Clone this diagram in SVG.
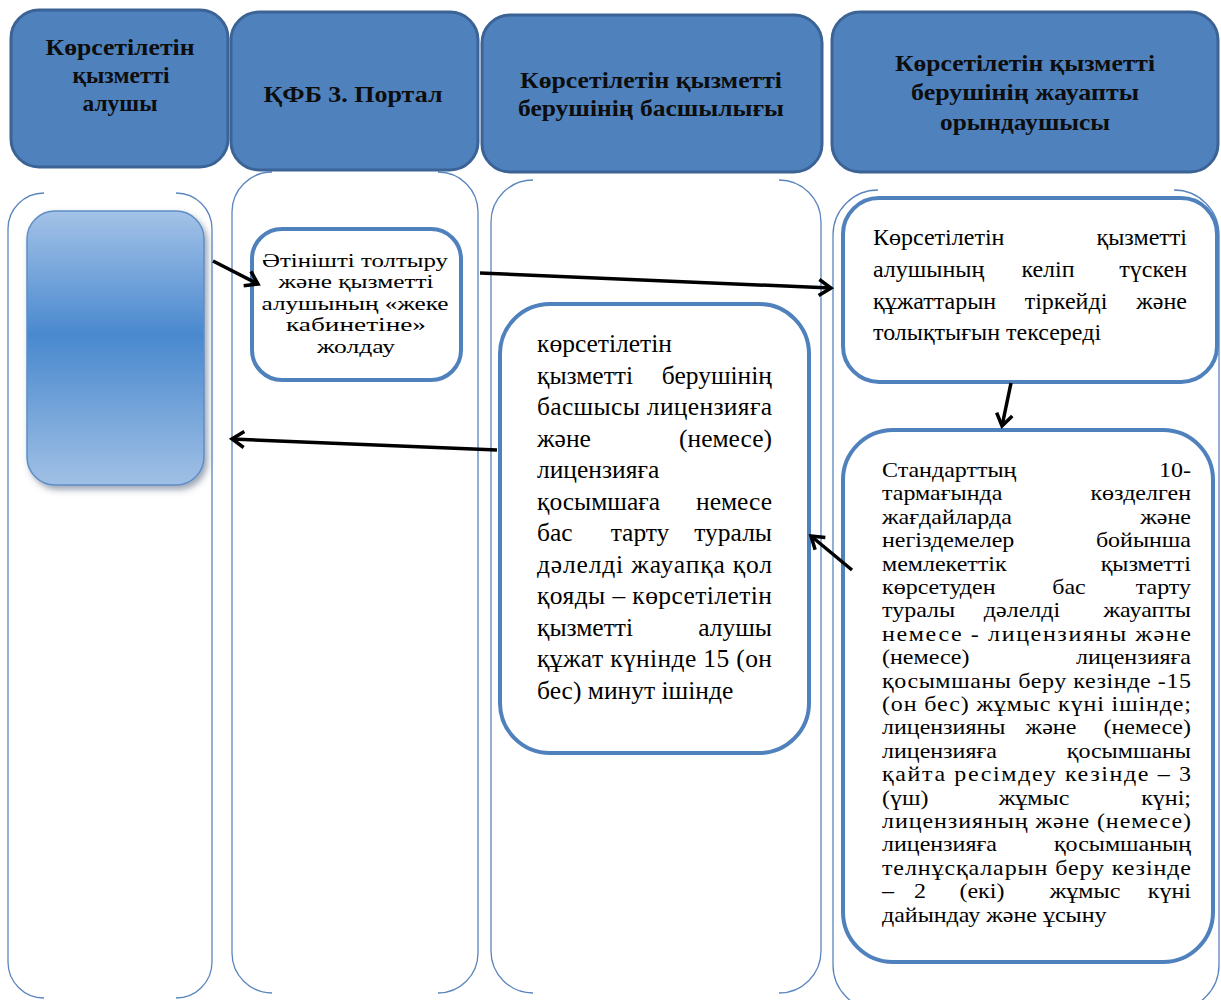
<svg xmlns="http://www.w3.org/2000/svg" width="1221" height="1000" viewBox="0 0 1221 1000">
<style>
.hdr{fill:#4F81BD;stroke:#3B6396;stroke-width:3}
.h{font-family:"Liberation Serif","DejaVu Serif",serif;font-weight:bold;font-size:24px;text-anchor:middle;fill:#0d0d0d}
.lane{fill:none;stroke:#5B86BD;stroke-width:1.3}
.box{fill:#fff;stroke:#4F81BD;stroke-width:4}
.t{font-family:"Liberation Serif","DejaVu Serif",serif;font-size:23px;fill:#000}
.c{text-anchor:middle}
.e{text-anchor:end}
.m{text-anchor:middle}
.arr{fill:none;stroke:#000;stroke-width:3.5;marker-end:url(#ah)}
</style>
<defs>
<marker id="ah" markerUnits="userSpaceOnUse" markerWidth="20" markerHeight="20" viewBox="0 0 20 20" refX="16" refY="10" orient="auto">
<path d="M4,2 L16,10 L4,18" fill="none" stroke="#000" stroke-width="3.5" stroke-linejoin="miter"/>
</marker>
<linearGradient id="g1" x1="0" y1="0" x2="0" y2="1">
<stop offset="0" stop-color="#A3C2E7"/>
<stop offset="0.45" stop-color="#4A89CF"/>
<stop offset="0.55" stop-color="#5892D2"/>
<stop offset="1" stop-color="#A0C0E5"/>
</linearGradient>
<filter id="sh" x="-10%" y="-10%" width="130%" height="130%">
<feDropShadow dx="3" dy="4" stdDeviation="3" flood-color="#3a4f6b" flood-opacity="0.5"/>
</filter>
</defs>

<g id="lanes">
<path class="lane" d="M44,193 A36,36 0 0 0 8,229 V962 A36,36 0 0 0 44,998 M176,193 A36,36 0 0 1 212,229 V962 A36,36 0 0 1 176,998"/>
<path class="lane" d="M272,172 A40,40 0 0 0 232,212 V953 A40,40 0 0 0 272,993 M438,172 A40,40 0 0 1 478,212 V953 A40,40 0 0 1 438,993"/>
<path class="lane" d="M533,180 A42,42 0 0 0 491,222 V951 A42,42 0 0 0 533,993 M779,180 A42,42 0 0 1 821,222 V951 A42,42 0 0 1 779,993"/>
<path class="lane" d="M878,190 A45,45 0 0 0 833,235 V965 A45,45 0 0 0 878,1010 M1174,190 A45,45 0 0 1 1219,235 V965 A45,45 0 0 1 1174,1010"/>
</g>

<g id="header1">
<rect class="hdr" x="11" y="10" width="217" height="157" rx="28"/>
<text class="h" x="120" y="55" textLength="149" lengthAdjust="spacingAndGlyphs">Көрсетілетін</text>
<text class="h" x="121" y="83" textLength="97" lengthAdjust="spacingAndGlyphs">қызметті</text>
<text class="h" x="120" y="111" textLength="75" lengthAdjust="spacingAndGlyphs">алушы</text>
</g>
<g id="header2">
<rect class="hdr" x="231" y="12" width="247" height="158" rx="28"/>
<text class="h" x="353" y="102" textLength="179" lengthAdjust="spacingAndGlyphs">ҚФБ 3. Портал</text>
</g>
<g id="header3">
<rect class="hdr" x="482" y="15" width="340" height="157" rx="28"/>
<text class="h" x="651" y="88" textLength="262" lengthAdjust="spacingAndGlyphs">Көрсетілетін қызметті</text>
<text class="h" x="651" y="116" textLength="266" lengthAdjust="spacingAndGlyphs">берушінің басшылығы</text>
</g>
<g id="header4">
<rect class="hdr" x="832" y="12" width="386" height="160" rx="28"/>
<text class="h" x="1025" y="71" textLength="260" lengthAdjust="spacingAndGlyphs">Көрсетілетін қызметті</text>
<text class="h" x="1025" y="100" textLength="228" lengthAdjust="spacingAndGlyphs">берушінің жауапты</text>
<text class="h" x="1025" y="130" textLength="170" lengthAdjust="spacingAndGlyphs">орындаушысы</text>
</g>

<g id="start">
<rect x="27" y="211" width="177" height="274" rx="28" fill="url(#g1)" stroke="#5F8DC6" stroke-width="1.5" filter="url(#sh)"/>
</g>

<g id="portal">
<rect class="box" x="252" y="229" width="209" height="151" rx="30"/>
<g class="t c" style="font-size:18.5px">
<text x="355" y="267" textLength="186" lengthAdjust="spacingAndGlyphs">Әтінішті толтыру</text>
<text x="356" y="288" textLength="155" lengthAdjust="spacingAndGlyphs">және қызметті</text>
<text x="355" y="310" textLength="187" lengthAdjust="spacingAndGlyphs">алушының «жеке</text>
<text x="356" y="331" textLength="140" lengthAdjust="spacingAndGlyphs">кабинетіне»</text>
<text x="356" y="353" textLength="78" lengthAdjust="spacingAndGlyphs">жолдау</text>
</g>
</g>

<g id="head">
<rect class="box" x="500" y="304" width="309" height="449" rx="50"/>
<g class="t" style="font-size:25.5px">
<text x="537" y="352">көрсетілетін</text>
<text x="537" y="384">қызметті</text><text class="e" x="772" y="384">берушінің</text>
<text x="537" y="415" textLength="235" lengthAdjust="spacing">басшысы лицензияға</text>
<text x="537" y="447">және</text><text class="e" x="772" y="447">(немесе)</text>
<text x="537" y="478">лицензияға</text>
<text x="537" y="510">қосымшаға</text><text class="e" x="772" y="510">немесе</text>
<text x="537" y="541">бас</text><text class="m" x="640" y="541">тарту</text><text class="e" x="772" y="541">туралы</text>
<text x="537" y="573" textLength="235" lengthAdjust="spacing">дәлелді жауапқа қол</text>
<text x="537" y="604" textLength="235" lengthAdjust="spacing">қояды – көрсетілетін</text>
<text x="537" y="636">қызметті</text><text class="e" x="772" y="636">алушы</text>
<text x="537" y="667" textLength="235" lengthAdjust="spacing">құжат күнінде 15 (он</text>
<text x="537" y="699">бес) минут ішінде</text>
</g>
</g>

<g id="register">
<rect class="box" x="843" y="198" width="374" height="184" rx="36"/>
<g class="t" style="font-size:24px">
<text x="873" y="245">Көрсетілетін</text><text class="e" x="1187" y="245">қызметті</text>
<text x="873" y="277">алушының</text><text class="m" x="1048" y="277">келіп</text><text class="e" x="1187" y="277">түскен</text>
<text x="873" y="309">құжаттарын</text><text class="m" x="1066" y="309">тіркейді</text><text class="e" x="1187" y="309">және</text>
<text x="873" y="340">толықтығын тексереді</text>
</g>
</g>

<g id="prepare">
<rect class="box" x="843" y="430" width="370" height="532" rx="50"/>
<g class="t" style="font-size:20px" transform="matrix(1.2,0,0,1,-176.4,0)">
<text x="882" y="477">Стандарттың</text><text class="e" x="1139.5" y="477">10-</text>
<text x="882" y="500">тармағында</text><text class="e" x="1139.5" y="500">көзделген</text>
<text x="882" y="524">жағдайларда</text><text class="e" x="1139.5" y="524">және</text>
<text x="882" y="547">негіздемелер</text><text class="e" x="1139.5" y="547">бойынша</text>
<text x="882" y="571">мемлекеттік</text><text class="e" x="1139.5" y="571">қызметті</text>
<text x="882" y="594">көрсетуден</text><text class="m" x="1037.8" y="594">бас</text><text class="e" x="1139.5" y="594">тарту</text>
<text x="882" y="617">туралы</text><text class="m" x="998.7" y="617">дәлелді</text><text class="e" x="1139.5" y="617">жауапты</text>
<text x="882" y="641" textLength="257.5" lengthAdjust="spacing">немесе - лицензияны және</text>
<text x="882" y="664">(немесе)</text><text class="e" x="1139.5" y="664">лицензияға</text>
<text x="882" y="688" textLength="257.5" lengthAdjust="spacing">қосымшаны беру кезінде -15</text>
<text x="882" y="711" textLength="257.5" lengthAdjust="spacing">(он бес) жұмыс күні ішінде;</text>
<text x="882" y="734">лицензияны</text><text class="m" x="1022.8" y="734">және</text><text class="e" x="1139.5" y="734">(немесе)</text>
<text x="882" y="758">лицензияға</text><text class="e" x="1139.5" y="758">қосымшаны</text>
<text x="882" y="781" textLength="257.5" lengthAdjust="spacing">қайта ресімдеу кезінде – 3</text>
<text x="882" y="805">(үш)</text><text class="m" x="1008.7" y="805">жұмыс</text><text class="e" x="1139.5" y="805">күні;</text>
<text x="882" y="828" textLength="257.5" lengthAdjust="spacing">лицензияның және (немесе)</text>
<text x="882" y="851">лицензияға</text><text class="e" x="1139.5" y="851">қосымшаның</text>
<text x="882" y="875" textLength="257.5" lengthAdjust="spacing">телнұсқаларын беру кезінде</text>
<text x="882" y="898">–</text><text class="m" x="913.7" y="898">2</text><text class="m" x="965.3" y="898">(екі)</text><text class="m" x="1051.2" y="898">жұмыс</text><text class="e" x="1139.5" y="898">күні</text>
<text x="882" y="922">дайындау және ұсыну</text>
</g>
</g>

<g id="connectors">
<line class="arr" x1="213" y1="261" x2="258" y2="284"/>
<line class="arr" x1="480" y1="273" x2="831" y2="288"/>
<line class="arr" x1="497" y1="450" x2="232" y2="439"/>
<line class="arr" x1="1011" y1="383" x2="1002" y2="426"/>
<line class="arr" x1="852" y1="570" x2="811" y2="536"/>
</g>
</svg>
